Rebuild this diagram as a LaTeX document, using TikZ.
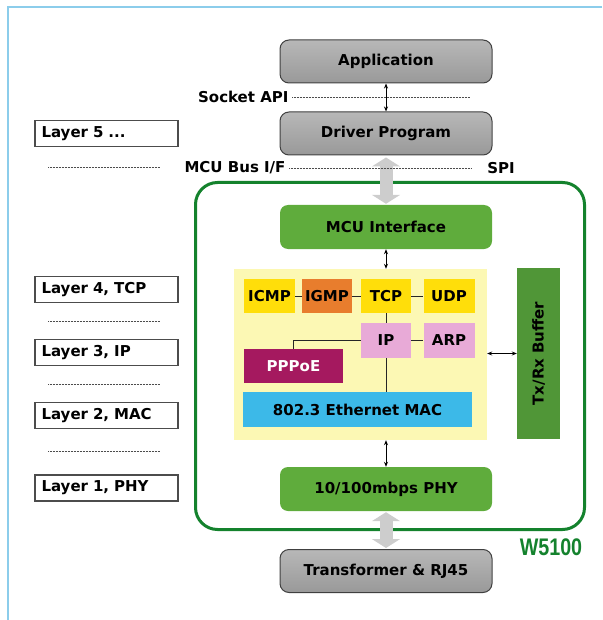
\documentclass[tikz,border=0pt]{standalone}
\usepackage{fontspec}
\setmainfont{DejaVu Sans}
\newfontfamily\wfont{Liberation Sans}
\usetikzlibrary{arrows.meta}
\definecolor{framblue}{RGB}{140,205,235}
\definecolor{chipgreen}{RGB}{20,130,45}
\definecolor{boxgreen}{RGB}{95,172,60}
\definecolor{bufgreen}{RGB}{80,150,55}
\definecolor{paleyel}{RGB}{252,248,180}
\definecolor{protoyel}{RGB}{255,222,10}
\definecolor{igmporange}{RGB}{232,125,45}
\definecolor{ippink}{RGB}{232,170,215}
\definecolor{pppmaroon}{RGB}{165,25,95}
\definecolor{macblue}{RGB}{60,185,232}
\definecolor{arrgray}{RGB}{205,205,205}
\tikzset{
  x=1pt,y=-1pt,
  lbl/.style={font=\fontsize{15}{17}\selectfont\bfseries},
  graybox/.style={draw=black!75, line width=1pt, rounded corners=9pt,
    top color=black!28, middle color=white!97!black, bottom color=black!40,
    minimum width=212pt, minimum height=43pt, lbl},
  greenbox/.style={fill=boxgreen, rounded corners=8pt,
    minimum width=212pt, minimum height=44pt, lbl},
  proto/.style={minimum width=50pt, minimum height=34pt, lbl, inner sep=0pt},
  layerbox/.style={draw=black!70, line width=1.2pt, minimum width=143pt,
    minimum height=26pt, lbl, text width=130pt, align=left},
  dots/.style={line width=0.7pt, black!70, dash pattern=on 0.5pt off 1pt},
  thinarr/.style={line width=0.9pt, {Stealth[length=5pt,width=4pt]}-{Stealth[length=5pt,width=4pt]}},
  bigarr/.style={line width=13pt, arrgray, {Triangle[length=9pt,width=28pt]}-{Triangle[length=9pt,width=28pt]}},
  link/.style={line width=1pt, black!85}
}
\begin{document}
\begin{tikzpicture}
\useasboundingbox (0,0) rectangle (602,620);
% outer frame
\draw[framblue, line width=1.5pt] (602,7) -- (8,7) -- (8,620);
% green chip frame
\node[draw=chipgreen, line width=3pt, rounded corners=22pt,
  minimum width=389pt, minimum height=347pt] (chip) at (390,356) {};
\node[font=\wfont\fontsize{24}{26}\selectfont\bfseries, text=chipgreen, xscale=0.82] (w5100) at (551,547) {W5100};
% gray boxes
\node[graybox] (app) at (386,61.5) {Application};
\node[graybox] (drv) at (386,133.5) {Driver Program};
\node[graybox] (trf) at (386,571) {Transformer \& RJ45};
% green boxes
\node[greenbox] (mcu) at (386,227) {MCU Interface};
\node[greenbox] (phy) at (386,489) {10/100mbps PHY};
\node[fill=bufgreen, minimum width=43pt, minimum height=171pt] (txrx) at (538.5,353.5) {};
\node[lbl, rotate=90] (txrxt) at (txrx.center) {Tx/Rx Buffer};
% yellow area
\node[fill=paleyel, minimum width=253pt, minimum height=171pt] (yel) at (360.5,354.5) {};
\node[proto, fill=protoyel, minimum width=51pt] (icmp) at (269.5,296) {ICMP};
\node[proto, fill=igmporange] (igmp) at (327,296) {IGMP};
\node[proto, fill=protoyel] (tcp) at (386,296) {TCP};
\node[proto, fill=protoyel, minimum width=51pt] (udp) at (449,296) {UDP};
\node[proto, fill=ippink, minimum height=35pt] (ip) at (386,340.5) {IP};
\node[proto, fill=ippink, minimum width=51pt, minimum height=35pt] (arp) at (449,340.5) {ARP};
\node[proto, fill=pppmaroon, text=white, minimum width=99pt] (ppp) at (293.5,366) {PPPoE};
\node[proto, fill=macblue, minimum width=229pt, minimum height=35pt] (mac) at (357.5,409.5) {802.3 Ethernet MAC};
% links
\draw[link] (icmp) -- (igmp);
\draw[link] (igmp) -- (tcp);
\draw[link] (tcp) -- (udp);
\draw[link] (ip) -- (arp);
\draw[link] (tcp) -- (ip);
\draw[link] (ip.south) -- (ip.south |- mac.north);
\draw[link] (ip.west) -| (ppp.north);
% arrows
\draw[thinarr] (app) -- (drv);
\draw[thinarr] (mcu) -- (yel.north -| mcu.south);
\draw[thinarr] (yel.south -| phy.north) -- (phy);
\draw[thinarr] (yel.east |- txrx.center) -- (txrx);
\draw[bigarr] ([yshift=-2pt]drv.south) -- ([yshift=1pt]mcu.north);
\draw[bigarr] ([yshift=-1pt]phy.south) -- ([yshift=1pt]trf.north);
% interface labels
\node[lbl, anchor=east] (sock) at (292,97) {Socket API};
\coordinate (sockend) at (470,97);
\draw[dots] (sock.east) -- (sockend);
\node[lbl, anchor=east] (bus) at (289,168) {MCU Bus I/F};
\node[lbl] (spi) at (501,168) {SPI};
\draw[dots] (bus.east) -- ([xshift=-12pt]spi.west);
% layer boxes
\node[layerbox] (l5) at (106.5,133.5) {Layer 5 ...};
\node[layerbox] (l4) at (106.5,289.5) {Layer 4, TCP};
\node[layerbox] (l3) at (106.5,352.5) {Layer 3, IP};
\node[layerbox] (l2) at (106.5,415.5) {Layer 2, MAC};
\node[layerbox] (l1) at (106.5,488) {Layer 1, PHY};
\coordinate (d5a) at (48,167); \coordinate (d5b) at (160,167);
\coordinate (d4a) at (48,321); \coordinate (d4b) at (160,321);
\coordinate (d3a) at (48,384); \coordinate (d3b) at (160,384);
\coordinate (d2a) at (48,451); \coordinate (d2b) at (160,451);
\draw[dots] (d5a) -- (d5b);
\draw[dots] (d4a) -- (d4b);
\draw[dots] (d3a) -- (d3b);
\draw[dots] (d2a) -- (d2b);
\end{tikzpicture}
\end{document}
